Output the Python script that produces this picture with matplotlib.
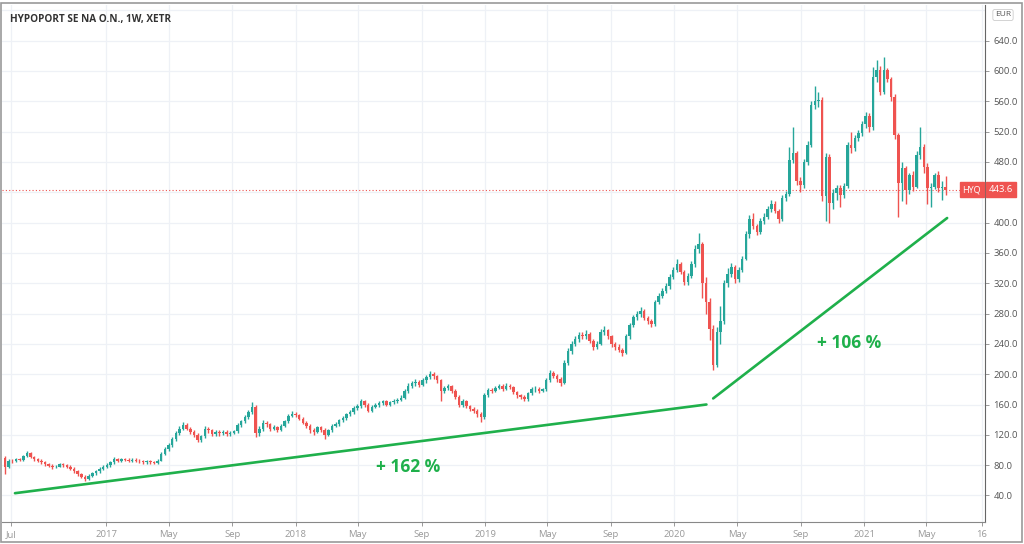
import matplotlib
matplotlib.use('Agg')
import matplotlib.pyplot as plt
import matplotlib.dates as mdates
from matplotlib.patches import Rectangle
import numpy as np
import pandas as pd

# weekly candles, HYPOPORT (XETR), from the week of 2016-06-20
first_open = 90
closes = [
    78, 86, 85, 88, 87, 92, 96, 91, 88, 86,
    84, 81, 79, 77, 78, 81, 80, 78, 75, 72,
    68, 65, 62, 66, 69, 72, 75, 78,
    80, 84, 88, 86, 88, 87, 86, 87, 86, 85,
    84, 85, 84, 83, 86, 95, 101, 106, 114, 122,
    128, 133, 128, 124, 120, 113, 118, 128, 126, 121,
    124, 122, 124, 121, 123, 125, 133, 138, 143, 150,
    157, 122, 128, 136, 134, 128, 130, 127, 132, 138,
    145, 148, 146, 141, 136, 132, 126, 124, 130, 127,
    120, 126, 132, 134, 139, 142, 147, 150, 156, 158,
    164, 160, 152, 157, 160, 162, 164, 160, 163, 164,
    166, 169, 178, 185, 188, 190, 186, 192, 196, 200,
    197, 192, 178, 182, 184, 178, 170, 160, 164, 158,
    154, 152, 147, 143, 172, 179, 178, 182, 184, 181,
    185, 183, 176, 172, 170, 167, 175, 180, 181, 178,
    180, 192, 202, 198, 194, 188, 215, 230, 240, 246,
    252, 250, 253, 244, 236, 240, 256, 258, 250, 240,
    236, 232, 228, 250, 265, 275, 280, 283, 274, 270,
    266, 295, 303, 310, 316, 328, 338, 346, 335, 322,
    330, 345, 365, 372, 320, 295, 260, 212, 255, 270,
    320, 332, 342, 325, 338, 352, 385, 405, 395, 388,
    402, 408, 418, 425, 415, 405, 432, 438, 482, 492,
    455, 450, 480, 502, 555, 560, 562, 435, 487, 426,
    439, 446, 437, 448, 502, 498, 512, 518, 530, 540,
    526, 592, 601, 572, 601, 590, 566, 515, 452, 472,
    443, 463, 447, 489, 500, 473, 446, 447, 463, 446,
    447, 443.6,
]
highs = [
    92, 88, 88, 90, 90, 94, 99, 97, 92, 90,
    88, 86, 83, 81, 80, 83, 83, 82, 80, 77,
    74, 70, 67, 68, 71, 74, 77, 80,
    83, 86, 91, 90, 90, 90, 89, 89, 89, 88,
    87, 87, 87, 86, 88, 97, 104, 109, 117, 125,
    131, 137, 135, 130, 126, 122, 120, 131, 130, 128,
    127, 126, 126, 126, 125, 127, 135, 140, 146, 153,
    163, 160, 131, 139, 138, 136, 133, 132, 134, 140,
    147, 151, 150, 148, 143, 138, 134, 129, 132, 132,
    129, 128, 134, 137, 141, 145, 149, 153, 158, 161,
    167, 166, 162, 159, 162, 165, 166, 166, 165, 167,
    168, 172, 181, 188, 191, 194, 192, 195, 199, 204,
    203, 199, 194, 185, 187, 186, 180, 172, 167, 166,
    160, 157, 154, 150, 175, 182, 182, 185, 187, 187,
    188, 187, 185, 178, 174, 172, 177, 183, 184, 183,
    182, 195, 206, 204, 200, 196, 219, 234, 244, 250,
    256, 256, 258, 255, 247, 244, 260, 263, 260, 252,
    243, 240, 235, 253, 268, 278, 284, 288, 286, 277,
    273, 298, 307, 314, 320, 332, 342, 352, 348, 338,
    334, 349, 370, 386, 375, 328, 300, 265, 262, 290,
    324, 340, 346, 344, 342, 356, 389, 410, 412, 398,
    406, 412, 422, 430, 428, 418, 436, 442, 500, 526,
    495, 460, 484, 508, 560, 580, 572, 566, 492, 490,
    444, 450, 449, 452, 506, 520, 515, 522, 534, 546,
    544, 605, 614, 606, 618, 604, 592, 570, 518, 480,
    475, 466, 468, 494, 526, 504, 478, 452, 466, 468,
    455, 462,
]
lows = [
    68, 76, 83, 84, 85, 86, 91, 89, 86, 84,
    82, 79, 77, 75, 76, 77, 78, 76, 73, 70,
    66, 63, 59, 61, 64, 67, 70, 73,
    76, 78, 82, 84, 84, 85, 84, 84, 84, 83,
    82, 82, 82, 81, 81, 85, 93, 99, 104, 112,
    120, 126, 126, 121, 117, 110, 111, 116, 123, 119,
    119, 119, 120, 119, 119, 121, 123, 130, 135, 141,
    148, 117, 118, 125, 130, 125, 126, 124, 125, 130,
    136, 143, 143, 139, 134, 129, 123, 120, 122, 124,
    114, 118, 124, 130, 132, 137, 140, 145, 148, 153,
    156, 157, 150, 150, 155, 157, 160, 158, 158, 161,
    162, 164, 167, 175, 182, 185, 183, 184, 189, 194,
    194, 188, 165, 175, 179, 175, 167, 157, 157, 155,
    151, 149, 144, 137, 141, 170, 175, 177, 180, 178,
    179, 180, 174, 169, 167, 165, 165, 173, 177, 175,
    176, 178, 190, 195, 190, 185, 187, 212, 227, 237,
    243, 246, 247, 241, 232, 233, 238, 252, 246, 236,
    232, 229, 224, 226, 247, 262, 272, 276, 271, 266,
    262, 263, 292, 300, 307, 313, 325, 335, 332, 318,
    318, 327, 342, 360, 300, 280, 245, 205, 210, 240,
    266, 315, 328, 320, 322, 335, 350, 380, 392, 384,
    385, 398, 405, 414, 412, 400, 402, 428, 435, 478,
    450, 440, 446, 476, 500, 550, 552, 428, 402, 400,
    418, 430, 420, 432, 445, 492, 494, 508, 514, 525,
    520, 522, 585, 568, 570, 586, 560, 510, 407, 428,
    425, 438, 442, 445, 484, 466, 425, 420, 444, 440,
    430, 436,
]
last_price = 443.6

# hand-drawn trend lines and their labels
trend1_dates = ['2016-07-09', '2020-03-03']
trend1_prices = [43, 160]
trend2_dates = ['2020-03-16', '2021-06-10']
trend2_prices = [168, 406]
label1 = ('2018-08-06', 77, '+ 162 %')
label2 = ('2020-12-04', 241, '+ 106 %')

tick_dates = ['2016-07-01', '2017-01-01', '2017-05-01', '2017-09-01', '2018-01-01',
              '2018-05-01', '2018-09-01', '2019-01-01', '2019-05-01', '2019-09-01',
              '2020-01-01', '2020-05-01', '2020-09-01', '2021-01-01', '2021-05-01',
              '2021-08-16']
tick_labels = ['Jul', '2017', 'May', 'Sep', '2018', 'May', 'Sep', '2019', 'May', 'Sep',
               '2020', 'May', 'Sep', '2021', 'May', '16']
price_ticks = list(range(40, 681, 40))

UP = '#26a69a'
DOWN = '#ef5350'
GREEN = '#1fb04b'

plt.rcParams['font.family'] = ['Open Sans', 'DejaVu Sans']

dates = pd.date_range('2016-06-20', periods=len(closes), freq='7D')
x = mdates.date2num(dates)
c = np.array(closes, dtype=float)
o = np.concatenate([[first_open], c[:-1]])
h = np.array(highs, dtype=float)
l = np.array(lows, dtype=float)
up = c >= o
col = np.where(up, UP, DOWN)

fig = plt.figure(figsize=(10.24, 5.44), dpi=100)
ax = fig.add_axes([2 / 1024, 22 / 544, 983 / 1024, 517 / 544])

# grid
for t in tick_dates:
    ax.axvline(mdates.datestr2num(t), color='#eef1f6', lw=0.9, zorder=0)
for p in price_ticks:
    ax.axhline(p, color='#eef1f6', lw=0.9, zorder=0)

# candles
ax.vlines(x, l, h, colors=col, lw=1.0, zorder=2)
body_lo = np.minimum(o, c)
body_h = np.maximum(np.abs(c - o), 0.8)
ax.bar(x, body_h, bottom=body_lo, width=4.8, color=col, edgecolor=col, lw=0, zorder=3)

# last price line
ax.axhline(last_price, color=DOWN, lw=0.8, ls=(0, (1, 2)), zorder=1)

# trend lines + labels
ax.plot(mdates.datestr2num(trend1_dates), trend1_prices, color=GREEN, lw=1.9, zorder=4,
        solid_capstyle='round')
ax.plot(mdates.datestr2num(trend2_dates), trend2_prices, color=GREEN, lw=1.9, zorder=4,
        solid_capstyle='round')
for d, p, s in (label1, label2):
    ax.text(mdates.datestr2num(d), p, s, color=GREEN, fontsize=12.5, fontweight='bold',
            ha='center', va='center', zorder=5)

ax.set_xlim(mdates.datestr2num('2016-06-14'), mdates.datestr2num('2021-08-22'))
ax.set_ylim(5, 687)

ax.set_xticks([mdates.datestr2num(t) for t in tick_dates])
ax.set_xticklabels(tick_labels)
for lab, s in zip(ax.get_xticklabels(), tick_labels):
    lab.set_color('#333333' if s.isdigit() and len(s) == 4 else '#666666')
ax.yaxis.tick_right()
shown = price_ticks[:-1]
ax.set_yticks(shown)
# the 440 label sits under the last-price tag
ax.set_yticklabels(['' if p == 440 else f'{p:.1f}' for p in shown])
ax.tick_params(axis='both', labelsize=6.8, colors='#999999', length=3, width=0.7)
ax.tick_params(axis='y', labelcolor='#555555', pad=3)
ax.tick_params(axis='x', pad=3)

for s in ('left', 'top'):
    ax.spines[s].set_visible(False)
ax.spines['right'].set_color('#666666')
ax.spines['bottom'].set_color('#888888')

ax.text(0.008, 0.982, 'HYPOPORT SE NA O.N., 1W, XETR', transform=ax.transAxes,
        fontsize=7.2, color='#333333', fontweight='bold', ha='left', va='top')

# price tag on the axis
ax.text(1.0 - 0.004, last_price, 'HYQ', transform=ax.get_yaxis_transform(),
        ha='right', va='center', fontsize=6.5, color='white',
        bbox=dict(boxstyle='square,pad=0.3', fc=DOWN, ec=DOWN), zorder=6)
ax.text(1.004, last_price, '443.6', transform=ax.get_yaxis_transform(),
        ha='left', va='center', fontsize=6.8, color='white',
        bbox=dict(boxstyle='square,pad=0.3', fc=DOWN, ec=DOWN), zorder=6, clip_on=False)

# currency box at top of price scale
fig.text(1003 / 1024, 1 - 15 / 544, 'EUR', fontsize=6, color='#555555', ha='center',
         va='center', bbox=dict(boxstyle='round,pad=0.25', fc='white', ec='#cccccc', lw=0.6))

# outer frame
fig.patches.append(Rectangle((1 / 1024, 2 / 544), 1021 / 1024, 539 / 544, fill=False,
                             ec='#999999', lw=1.2, transform=fig.transFigure))

fig.savefig('out.png', dpi=100)
